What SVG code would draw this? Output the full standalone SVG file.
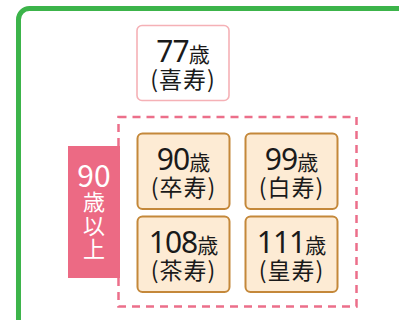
<svg xmlns="http://www.w3.org/2000/svg" width="399" height="320" viewBox="0 0 399 320">
<style>
.t{font-family:"Noto Sans CJK JP","Noto Sans",sans-serif;text-anchor:middle;fill:#1a1a1a}
.n{font-family:"Noto Sans",sans-serif;font-size:30px;letter-spacing:-1px}
.k{font-size:21px}
.p{font-size:23px;letter-spacing:1px}
.w{fill:#fff}
.box{fill:#fdebd4;stroke:#c4883a;stroke-width:2}
</style>
<rect x="18.5" y="8.5" width="400" height="330" rx="11" fill="#fff" stroke="#3cb44a" stroke-width="5"/>
<g id="node-77">
<rect x="137" y="25.5" width="92" height="75" rx="5" fill="#fff" stroke="#f5b1b6" stroke-width="1.6"/>
<text class="t" x="183" y="62"><tspan class="n">77</tspan><tspan class="k">歳</tspan></text>
<text class="t p" x="183" y="88">(喜寿)</text>
</g>
<g id="group-90plus">
<rect x="118.5" y="117" width="238" height="189.5" fill="none" stroke="#ec6f8a" stroke-width="2.5" stroke-dasharray="8,6"/>
</g>
<g id="label-90plus">
<rect x="68" y="146" width="52" height="132" fill="#ec6a84"/>
<text class="t w" x="94" y="186.5" font-size="30" font-family="Noto Sans, sans-serif">90</text>
<text class="t w" x="94" y="210" font-size="22">歳</text>
<text class="t w" x="94" y="233.5" font-size="22">以</text>
<text class="t w" x="94" y="256.5" font-size="22">上</text>
</g>
<g id="node-90">
<rect class="box" x="137.5" y="133.5" width="92" height="75.5" rx="5"/>
<text class="t" x="183.5" y="170"><tspan class="n">90</tspan><tspan class="k">歳</tspan></text>
<text class="t p" x="183.5" y="196">(卒寿)</text>
</g>
<g id="node-99">
<rect class="box" x="245.5" y="133.5" width="92" height="75.5" rx="5"/>
<text class="t" x="291.5" y="170"><tspan class="n">99</tspan><tspan class="k">歳</tspan></text>
<text class="t p" x="291.5" y="196">(白寿)</text>
</g>
<g id="node-108">
<rect class="box" x="137.5" y="216.5" width="92" height="75.5" rx="5"/>
<text class="t" x="183.5" y="253"><tspan class="n">108</tspan><tspan class="k">歳</tspan></text>
<text class="t p" x="183.5" y="279">(茶寿)</text>
</g>
<g id="node-111">
<rect class="box" x="245.5" y="216.5" width="92" height="75.5" rx="5"/>
<text class="t" x="291.5" y="253"><tspan class="n">111</tspan><tspan class="k">歳</tspan></text>
<text class="t p" x="291.5" y="279">(皇寿)</text>
</g>
<g id="connectors"></g>
</svg>
